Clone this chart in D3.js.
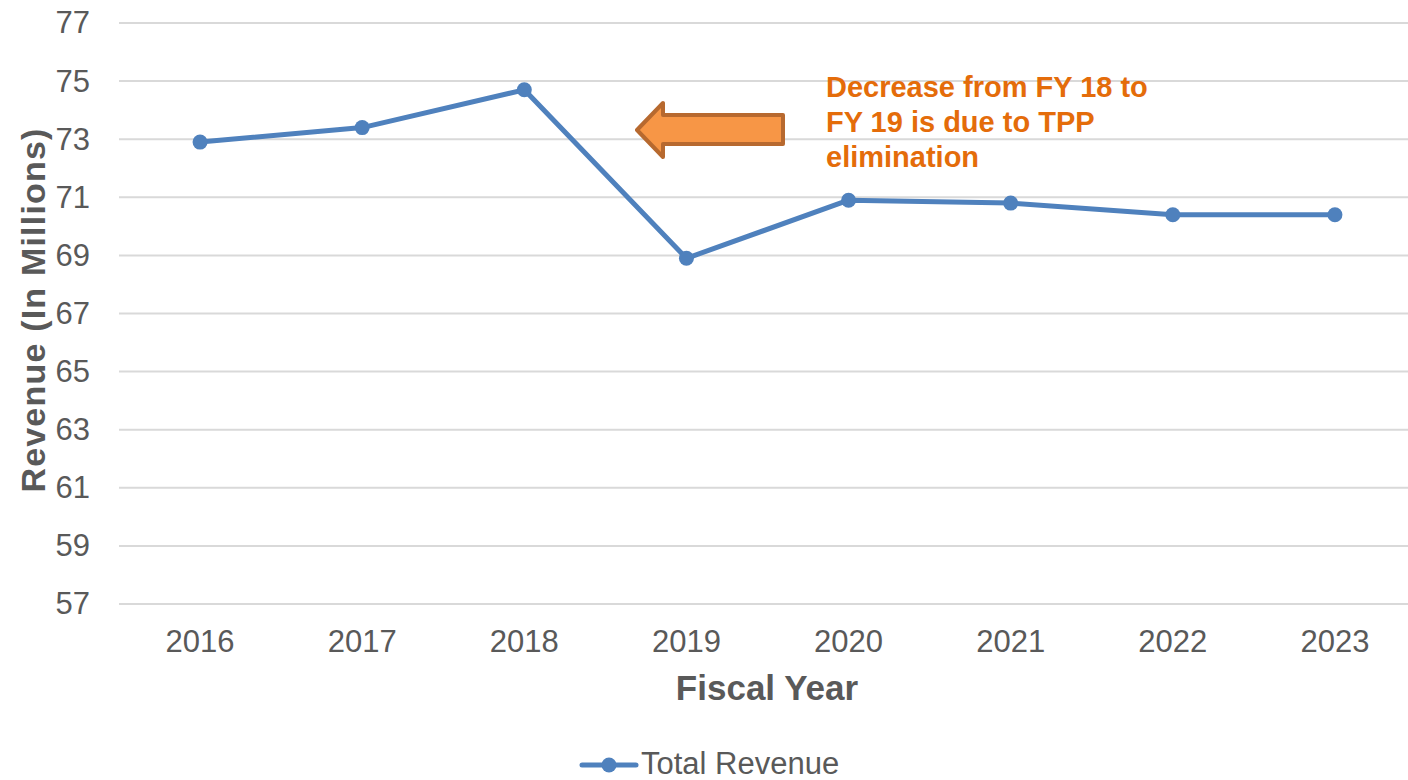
<!DOCTYPE html>
<html>
<head>
<meta charset="utf-8">
<script src="https://cdn.jsdelivr.net/npm/d3@7"></script>
<style>
  body { margin: 0; background: #fff; }
  svg { display: block; font-family: "Liberation Sans", Arial, sans-serif; }
</style>
</head>
<body>
<svg id="chart"></svg>
<script>
// data
const years = ["2016", "2017", "2018", "2019", "2020", "2021", "2022", "2023"];
const revenue = [72.9, 73.4, 74.7, 68.9, 70.9, 70.8, 70.4, 70.4];
const yTicks = [57, 59, 61, 63, 65, 67, 69, 71, 73, 75, 77];
const noteLines = ["Decrease from FY 18 to", "FY 19 is due to TPP", "elimination"];
const seriesName = "Total Revenue";

const W = 1408, H = 780;
const blue = "#4f81bd", grey = "#595959";

const svg = d3.select("#chart")
    .attr("width", W)
    .attr("height", H);

// scales
const x = d3.scaleBand()
    .domain(years)
    .range([119, 1416]);
const y = d3.scaleLinear()
    .domain([57, 77])
    .range([604, 23]);

// gridlines
svg.append("g")
    .selectAll("line")
    .data(yTicks)
    .join("line")
    .attr("x1", 119)
    .attr("x2", W)
    .attr("y1", d => y(d))
    .attr("y2", d => y(d))
    .attr("stroke", "#d9d9d9")
    .attr("stroke-width", 2);

// Y axis labels
const yAxis = svg.append("g")
    .attr("transform", "translate(119,0)")
    .call(d3.axisLeft(y).tickValues(yTicks).tickSize(0).tickPadding(29));
yAxis.select(".domain").remove();
yAxis.selectAll("text")
    .attr("fill", grey)
    .style("font-size", "31px")
    .style("font-family", "Liberation Sans, Arial, sans-serif");

// X axis labels
const xAxis = svg.append("g")
    .attr("transform", "translate(0,604)")
    .call(d3.axisBottom(x).tickSize(0).tickPadding(26));
xAxis.select(".domain").remove();
xAxis.selectAll("text")
    .attr("fill", grey)
    .style("font-size", "31px")
    .style("font-family", "Liberation Sans, Arial, sans-serif");

// axis titles
svg.append("text")
    .attr("x", 767)
    .attr("y", 700)
    .attr("text-anchor", "middle")
    .attr("fill", grey)
    .style("font-size", "35px")
    .style("font-weight", "bold")
    .text("Fiscal Year");

svg.append("text")
    .attr("transform", "translate(45,310) rotate(-90)")
    .attr("text-anchor", "middle")
    .attr("fill", grey)
    .style("font-size", "34px")
    .style("font-weight", "bold")
    .style("letter-spacing", "1.2px")
    .text("Revenue (In Millions)");

// the line
const pts = years.map((d, i) => ({ year: d, value: revenue[i] }));
const line = d3.line()
    .x(d => x(d.year) + x.bandwidth() / 2)
    .y(d => y(d.value));

svg.append("path")
    .datum(pts)
    .attr("fill", "none")
    .attr("stroke", blue)
    .attr("stroke-width", 5)
    .attr("stroke-linejoin", "round")
    .attr("d", line);

svg.append("g")
    .selectAll("circle")
    .data(pts)
    .join("circle")
    .attr("cx", d => x(d.year) + x.bandwidth() / 2)
    .attr("cy", d => y(d.value))
    .attr("r", 7.5)
    .attr("fill", blue);

// annotation arrow (block arrow pointing left)
svg.append("path")
    .attr("d", "M637,130 L663,103 L663,115 L783,115 L783,144 L663,144 L663,157 Z")
    .attr("fill", "#f79646")
    .attr("stroke", "#b7692f")
    .attr("stroke-width", 4)
    .attr("stroke-linejoin", "round");

svg.append("g")
    .selectAll("text")
    .data(noteLines)
    .join("text")
    .attr("x", 826)
    .attr("y", (d, i) => 97 + i * 35)
    .attr("fill", "#e46c0a")
    .style("font-size", "29px")
    .style("font-weight", "bold")
    .text(d => d);

// legend
const lg = svg.append("g");
lg.append("line")
    .attr("x1", 582).attr("x2", 636)
    .attr("y1", 765).attr("y2", 765)
    .attr("stroke", blue)
    .attr("stroke-width", 5)
    .attr("stroke-linecap", "round");
lg.append("circle")
    .attr("cx", 609).attr("cy", 765)
    .attr("r", 7.5)
    .attr("fill", blue);
lg.append("text")
    .attr("x", 641)
    .attr("y", 774)
    .attr("fill", grey)
    .style("font-size", "31px")
    .text(seriesName);
</script>
</body>
</html>
